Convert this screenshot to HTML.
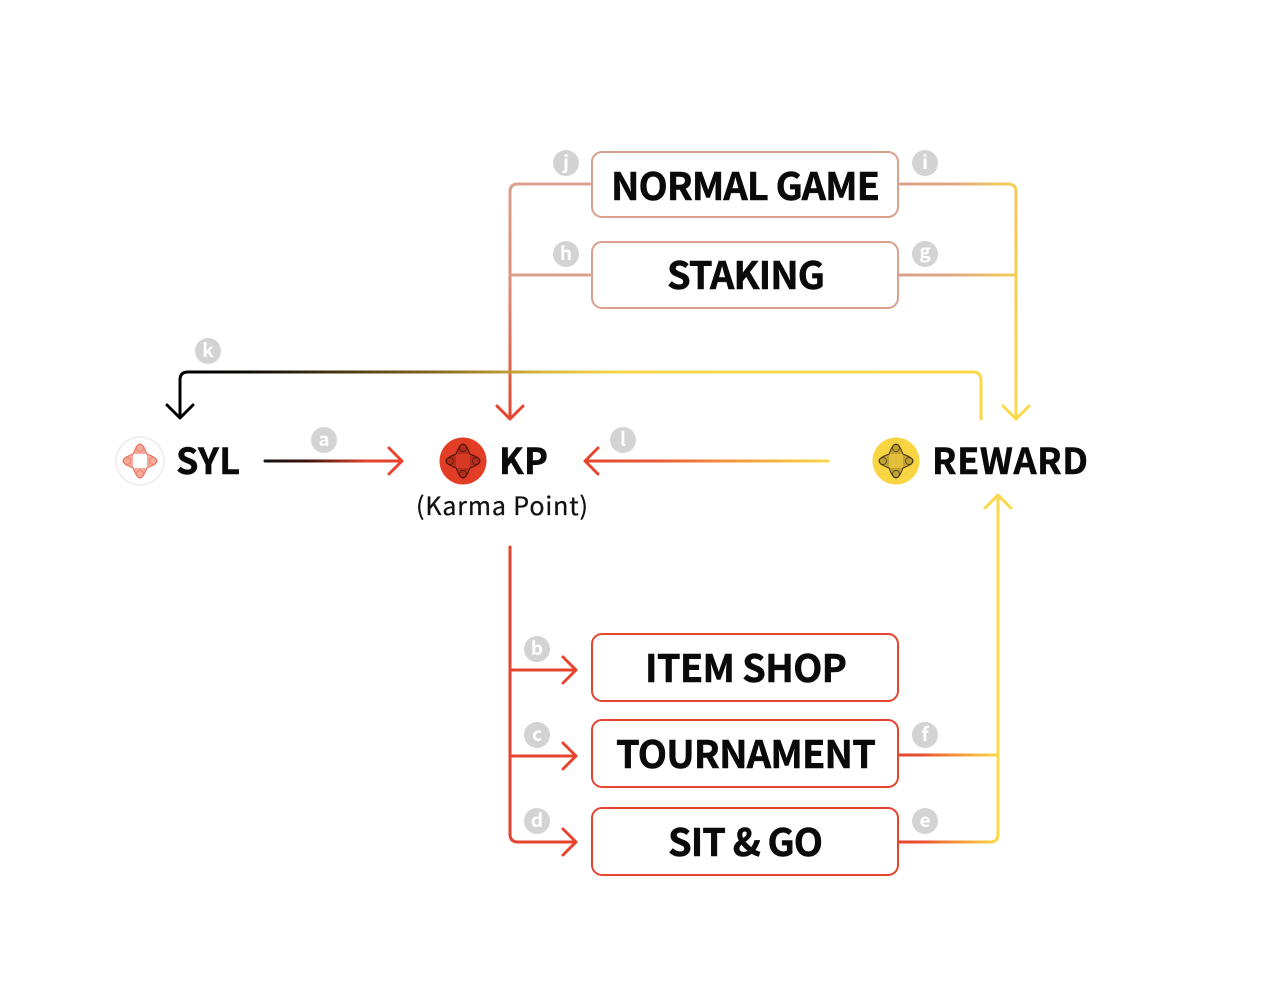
<!DOCTYPE html>
<html>
<head>
<meta charset="utf-8">
<style>
  html,body{margin:0;padding:0;background:#fff;}
  body{width:1280px;height:983px;overflow:hidden;}
  svg{display:block;}
  .t{font-family:"Noto Sans CJK JP","Liberation Sans",sans-serif;font-weight:700;fill:#0a0a0a;stroke:#0a0a0a;stroke-width:0.5px;}
  .lbl{font-family:"Noto Sans CJK JP","Liberation Sans",sans-serif;font-weight:700;fill:#fff;font-size:19px;}
</style>
</head>
<body>
<svg width="1280" height="983" viewBox="0 0 1280 983" xmlns="http://www.w3.org/2000/svg">
  <defs>
    <linearGradient id="gLT" gradientUnits="userSpaceOnUse" x1="0" y1="184" x2="0" y2="418">
      <stop offset="0" stop-color="#d9a08c"/>
      <stop offset="0.45" stop-color="#dd8a76"/>
      <stop offset="1" stop-color="#e5452e"/>
    </linearGradient>
    <linearGradient id="gRT" gradientUnits="userSpaceOnUse" x1="900" y1="0" x2="1016" y2="0">
      <stop offset="0" stop-color="#d9a08c"/>
      <stop offset="0.45" stop-color="#dfa985"/>
      <stop offset="0.8" stop-color="#ecc164"/>
      <stop offset="1" stop-color="#f5cf55"/>
    </linearGradient>
    <linearGradient id="gRV" gradientUnits="userSpaceOnUse" x1="0" y1="184" x2="0" y2="418">
      <stop offset="0" stop-color="#f2c55a"/>
      <stop offset="1" stop-color="#fad84a"/>
    </linearGradient>
    <linearGradient id="gK" gradientUnits="userSpaceOnUse" x1="180" y1="0" x2="981" y2="0">
      <stop offset="0" stop-color="#000"/>
      <stop offset="0.08" stop-color="#0a0805"/>
      <stop offset="0.3" stop-color="#7a5e1c"/>
      <stop offset="0.45" stop-color="#d9b53e"/>
      <stop offset="0.55" stop-color="#f8d64a"/>
      <stop offset="1" stop-color="#fad84a"/>
    </linearGradient>
    <linearGradient id="gA" gradientUnits="userSpaceOnUse" x1="265" y1="0" x2="402" y2="0">
      <stop offset="0" stop-color="#111"/>
      <stop offset="0.3" stop-color="#3a120c"/>
      <stop offset="0.75" stop-color="#e5452e"/>
      <stop offset="1" stop-color="#e5452e"/>
    </linearGradient>
    <linearGradient id="gL" gradientUnits="userSpaceOnUse" x1="585" y1="0" x2="828" y2="0">
      <stop offset="0" stop-color="#e5452e"/>
      <stop offset="0.3" stop-color="#e95a33"/>
      <stop offset="0.6" stop-color="#f2963c"/>
      <stop offset="1" stop-color="#fad84a"/>
    </linearGradient>
    <linearGradient id="gB" gradientUnits="userSpaceOnUse" x1="900" y1="0" x2="998" y2="0">
      <stop offset="0" stop-color="#e5452e"/>
      <stop offset="0.25" stop-color="#e9552f"/>
      <stop offset="0.6" stop-color="#f29a3c"/>
      <stop offset="1" stop-color="#fad84a"/>
    </linearGradient>
  </defs>

  <g fill="none" stroke-width="3" stroke-linecap="round" stroke-linejoin="round">
    <path d="M590 184 H518 Q510 184 510 192 V417" stroke="url(#gLT)"/>
    <path d="M590 275 H510" stroke="#d9a08c"/>
    <path d="M497 406 L510 419 L523 406" stroke="#e5452e"/>

    <path d="M900 184 H1008 Q1016 184 1016 192" stroke="url(#gRT)"/>
    <path d="M900 275 H1016" stroke="url(#gRT)"/>
    <path d="M1016 192 V417" stroke="url(#gRV)"/>
    <path d="M1003 406 L1016 419 L1029 406" stroke="#fad84a"/>

    <path d="M981 419 V380 Q981 372 973 372 H188 Q180 372 180 380 V417" stroke="url(#gK)"/>
    <path d="M167 405 L180 418 L193 405" stroke="#000"/>

    <path d="M265 461 H401" stroke="url(#gA)"/>
    <path d="M389 448 L402 461 L389 474" stroke="#e5452e"/>

    <path d="M828 461 H586" stroke="url(#gL)"/>
    <path d="M598 448 L585 461 L598 474" stroke="#e5452e"/>

    <path d="M510 547 V834 Q510 842 518 842 H575" stroke="#e5452e"/>
    <path d="M510 670 H575" stroke="#e5452e"/>
    <path d="M510 756 H575" stroke="#e5452e"/>
    <path d="M563 657 L576 670 L563 683" stroke="#e5452e"/>
    <path d="M563 743 L576 756 L563 769" stroke="#e5452e"/>
    <path d="M563 829 L576 842 L563 855" stroke="#e5452e"/>

    <path d="M900 842 H990 Q998 842 998 834" stroke="url(#gB)"/>
    <path d="M900 755 H998" stroke="url(#gB)"/>
    <path d="M998 834 V497" stroke="#fad84a"/>
    <path d="M985 508 L998 495 L1011 508" stroke="#fad84a"/>
  </g>

  <g fill="#fff" stroke-width="2">
    <rect x="592" y="152" width="306" height="65" rx="10" stroke="#d9a08c"/>
    <rect x="592" y="242" width="306" height="66" rx="10" stroke="#d9a08c"/>
    <rect x="592" y="634" width="306" height="67" rx="10" stroke="#e5452e"/>
    <rect x="592" y="720" width="306" height="67" rx="10" stroke="#e5452e"/>
    <rect x="592" y="808" width="306" height="67" rx="10" stroke="#e5452e"/>
  </g>

  <g class="t" font-size="38" text-anchor="middle">
    <text x="745.5" y="200" textLength="269" lengthAdjust="spacing">NORMAL GAME</text>
    <text x="746" y="289" textLength="158" lengthAdjust="spacing">STAKING</text>
    <text x="746" y="682" textLength="202" lengthAdjust="spacing">ITEM SHOP</text>
    <text x="746" y="768" textLength="260" lengthAdjust="spacing">TOURNAMENT</text>
    <text x="745.5" y="856" textLength="155" lengthAdjust="spacing">SIT &amp; GO</text>
  </g>

  <g class="t" font-size="36">
    <text x="176" y="474" textLength="64" lengthAdjust="spacing">SYL</text>
    <text x="499" y="474" textLength="49" lengthAdjust="spacing">KP</text>
    <text x="932" y="474" textLength="156" lengthAdjust="spacing">REWARD</text>
  </g>
  <text x="416" y="515" font-family="'Noto Sans CJK JP','Liberation Sans',sans-serif" font-size="25" font-weight="400" fill="#111" stroke="#111" stroke-width="0.3" textLength="172" lengthAdjust="spacing">(Karma Point)</text>

  <defs>
    <path id="star" d="M0 -17 C3 -17 5 -12 7 -7 C12 -5 17 -3 17 0 C17 3 12 5 7 7 C5 12 3 17 0 17 C-3 17 -5 12 -7 7 C-12 5 -17 3 -17 0 C-17 -3 -12 -5 -7 -7 C-5 -12 -3 -17 0 -17 Z"/>
  </defs>
  <g transform="translate(140,461)">
    <circle r="24" fill="#fff" stroke="#efefef" stroke-width="2"/>
    <use href="#star" fill="#f4a99b" stroke="#e8735f" stroke-width="1"/>
    <circle cx="0" cy="-13" r="3.5" fill="none" stroke="#e8735f" stroke-width="0.7"/>
    <circle cx="0" cy="13" r="3.5" fill="none" stroke="#e8735f" stroke-width="0.7"/>
    <circle cx="-13" cy="0" r="3.5" fill="none" stroke="#e8735f" stroke-width="0.7"/>
    <circle cx="13" cy="0" r="3.5" fill="none" stroke="#e8735f" stroke-width="0.7"/>
    <rect x="-7" y="-7" width="14" height="14" rx="2" fill="#fff"/>
  </g>
  <g transform="translate(463,461)">
    <circle r="23.5" fill="#e23d25"/>
    <use href="#star" fill="#b32d1b" stroke="#4a150c" stroke-width="1"/>
    <circle cx="0" cy="-13" r="3.5" fill="none" stroke="#4a150c" stroke-width="0.7"/>
    <circle cx="0" cy="13" r="3.5" fill="none" stroke="#4a150c" stroke-width="0.7"/>
    <circle cx="-13" cy="0" r="3.5" fill="none" stroke="#4a150c" stroke-width="0.7"/>
    <circle cx="13" cy="0" r="3.5" fill="none" stroke="#4a150c" stroke-width="0.7"/>
    <rect x="-7" y="-7" width="14" height="14" rx="1.5" fill="#d63a24"/>
  </g>
  <g transform="translate(896,461)">
    <circle r="23.5" fill="#f9d443"/>
    <use href="#star" fill="#bfa032" stroke="#3d320c" stroke-width="1"/>
    <circle cx="0" cy="-13" r="3.5" fill="none" stroke="#3d320c" stroke-width="0.7"/>
    <circle cx="0" cy="13" r="3.5" fill="none" stroke="#3d320c" stroke-width="0.7"/>
    <circle cx="-13" cy="0" r="3.5" fill="none" stroke="#3d320c" stroke-width="0.7"/>
    <circle cx="13" cy="0" r="3.5" fill="none" stroke="#3d320c" stroke-width="0.7"/>
    <rect x="-7" y="-7" width="14" height="14" rx="1.5" fill="#e4bf3c"/>
  </g>

  <g fill="#d3d3d3">
    <circle cx="566" cy="163" r="13"/>
    <circle cx="925" cy="163" r="13"/>
    <circle cx="566" cy="254" r="13"/>
    <circle cx="925" cy="254" r="13"/>
    <circle cx="208" cy="351" r="13"/>
    <circle cx="324" cy="440" r="13"/>
    <circle cx="623" cy="440" r="13"/>
    <circle cx="537" cy="649" r="13"/>
    <circle cx="537" cy="735" r="13"/>
    <circle cx="537" cy="821" r="13"/>
    <circle cx="925" cy="735" r="13"/>
    <circle cx="925" cy="821" r="13"/>
  </g>
  <g class="lbl" text-anchor="middle">
    <text x="566" y="169">j</text>
    <text x="925" y="169">i</text>
    <text x="566" y="260">h</text>
    <text x="925" y="258">g</text>
    <text x="208" y="357">k</text>
    <text x="324" y="446">a</text>
    <text x="623" y="446">l</text>
    <text x="537" y="655">b</text>
    <text x="537" y="741">c</text>
    <text x="537" y="827">d</text>
    <text x="925" y="741">f</text>
    <text x="925" y="827">e</text>
  </g>
</svg>
</body>
</html>
